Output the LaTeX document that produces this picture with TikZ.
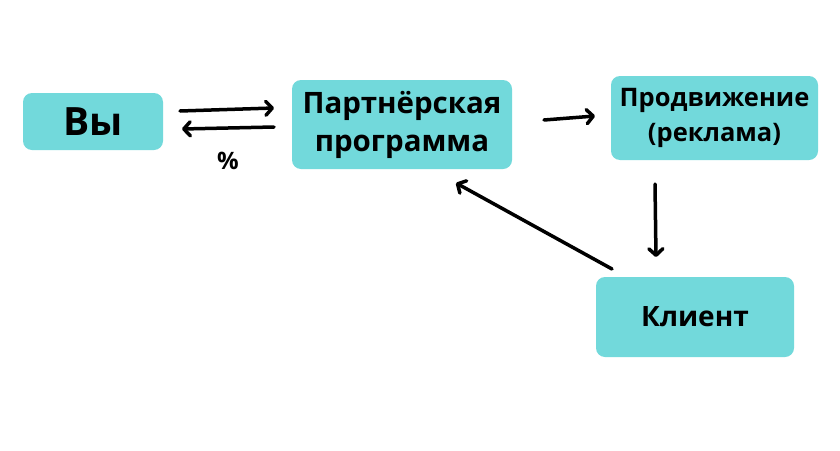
\documentclass[tikz,border=0pt]{standalone}
\usepackage{fontspec}
\setmainfont{Open Sans}
\usetikzlibrary{arrows.meta}
\definecolor{boxc}{HTML}{72D9DB}
\tikzset{
  box/.style={fill=boxc, rounded corners=9pt, draw=none, inner sep=0pt, align=center},
  arr/.style={line width=3.5pt, line cap=round, -{Straight Barb[length=6.5pt,width=14pt,round]}}
}
\begin{document}
\begin{tikzpicture}[x=1pt,y=-1pt]
\useasboundingbox (0,0) rectangle (840,450);
\fill[white] (0,0) rectangle (840,450);
\node[box, minimum width=140pt, minimum height=57pt, font=\bfseries\fontsize{39}{42}\selectfont] (vy) at (93,121.5) {Вы};
\node[box, minimum width=220pt, minimum height=89pt, font=\bfseries\fontsize{29.5}{38}\selectfont] (pp) at (402,124.5) {Партнёрская\\программа};
\node[box, minimum width=207pt, minimum height=84pt, font=\bfseries\fontsize{25.5}{35}\selectfont] (pr) at (714.5,118) {\raisebox{-2pt}{Продвижение}\\\raisebox{-2pt}{(реклама)}};
\node[box, minimum width=198pt, minimum height=80pt, font=\bfseries\fontsize{28}{30}\selectfont] (kl) at (695,317) {Клиент};
\node[font=\bfseries\fontsize{24}{26}\selectfont] (pct) at (228,161) {\%};
\coordinate (a1s) at (180,111);
\coordinate (a1e) at (274,108);
\coordinate (a2s) at (274,127);
\coordinate (a2e) at (182,129);
\coordinate (a3s) at (544,120);
\coordinate (a3e) at (595,116);
\coordinate (a4s) at (655,184);
\coordinate (a4e) at (656,257);
\coordinate (a5s) at (612,269);
\coordinate (a5e) at (456,183);
\draw[arr] (a1s) -- (a1e);
\draw[arr] (a2s) -- (a2e);
\draw[arr] (a3s) -- (a3e);
\draw[arr] (a4s) -- (a4e);
\draw[arr] (a5s) -- (a5e);
\end{tikzpicture}
\end{document}
